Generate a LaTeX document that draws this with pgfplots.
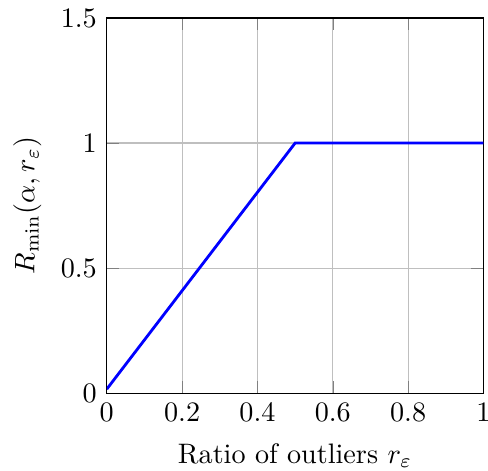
\documentclass[border=0pt]{standalone}
\usepackage{pgfplots}
\pgfplotsset{compat=1.18}
\begin{document}
\begin{tikzpicture}
\begin{axis}[
  scale only axis,
  width=4.7cm, height=4.68cm,
  xmin=0, xmax=1, ymin=0, ymax=1.5,
  xtick={0,0.2,0.4,0.6,0.8,1},
  ytick={0,0.5,1,1.5},
  grid=major,
  xlabel={Ratio of outliers $r_\varepsilon$},
  ylabel={$R_{\min}(\alpha, r_\varepsilon)$},
  xlabel shift=1pt,
]
\addplot[blue, line width=1pt] coordinates {(0,0.016) (0.5,1) (1,1)};
\end{axis}
\pgfresetboundingbox
\path ([shift={(-37.9pt,-27.3pt)}]current axis.south west) rectangle ([shift={(1.6pt,6.4pt)}]current axis.north east);
\end{tikzpicture}
\end{document}
